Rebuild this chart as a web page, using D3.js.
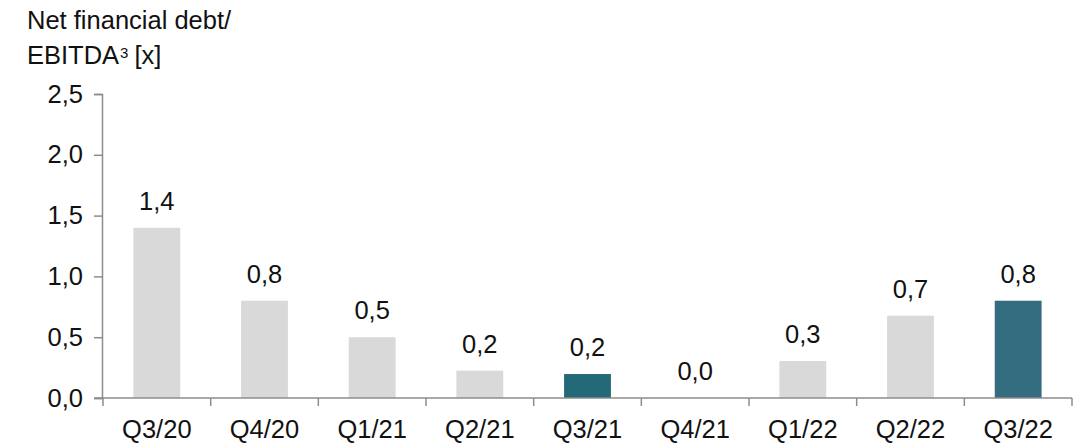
<!DOCTYPE html>
<html>
<head>
<meta charset="utf-8">
<script src="https://cdn.jsdelivr.net/npm/d3@7"></script>
<style>
  body { margin: 0; background: #fff; }
  svg text { font-family: "Liberation Sans", Arial, sans-serif; fill: #111; }
</style>
</head>
<body>
<div id="chart"></div>
<script>
const categories = ["Q3/20", "Q4/20", "Q1/21", "Q2/21", "Q3/21", "Q4/21", "Q1/22", "Q2/22", "Q3/22"];
const values = [1.40, 0.80, 0.50, 0.225, 0.197, 0.0, 0.304, 0.677, 0.80];
const labels = ["1,4", "0,8", "0,5", "0,2", "0,2", "0,0", "0,3", "0,7", "0,8"];
const barColors = ["#d9d9d9", "#d9d9d9", "#d9d9d9", "#d9d9d9", "#236978", "#d9d9d9", "#d9d9d9", "#d9d9d9", "#346d80"];
const yTicks = [0, 0.5, 1.0, 1.5, 2.0, 2.5];

const width = 1079, height = 443;
const fs = "25.5px";

const svg = d3.select("#chart")
    .append("svg")
    .attr("width", width)
    .attr("height", height);

const x = d3.scaleBand()
    .domain(categories)
    .range([103, 1072]);

const y = d3.scaleLinear()
    .domain([0, 2.5])
    .range([398, 94]);

const barW = x.bandwidth() * 0.435;

// title
svg.append("text")
    .attr("x", 27)
    .attr("y", 29)
    .style("font-size", fs)
    .text("Net financial debt/");
const t2 = svg.append("text")
    .attr("x", 27)
    .attr("y", 64)
    .style("font-size", fs);
t2.append("tspan").text("EBITDA");
t2.append("tspan").attr("dy", -6).attr("dx", 1).style("font-size", "15px").text("3");
t2.append("tspan").attr("dy", 6).attr("dx", 6).text("[x]");

// bars
svg.selectAll(".bar")
    .data(values)
    .enter()
    .append("rect")
    .attr("class", "bar")
    .attr("x", (d, i) => x(categories[i]) + (x.bandwidth() - barW) / 2)
    .attr("y", d => y(d))
    .attr("width", barW)
    .attr("height", d => y(0) - y(d))
    .attr("fill", (d, i) => barColors[i]);

// value labels
svg.selectAll(".vlabel")
    .data(values)
    .enter()
    .append("text")
    .attr("class", "vlabel")
    .attr("x", (d, i) => x(categories[i]) + x.bandwidth() / 2)
    .attr("y", d => y(d) - 18)
    .attr("text-anchor", "middle")
    .style("font-size", fs)
    .text((d, i) => labels[i]);

// y axis
const yAxis = svg.append("g")
    .attr("transform", "translate(102,0)")
    .call(d3.axisLeft(y).tickValues(yTicks).tickSize(8).tickPadding(11)
        .tickFormat(d => d3.format(".1f")(d).replace(".", ",")));
yAxis.select(".domain").attr("stroke", "#8c8c8c").attr("stroke-width", 1.5);
yAxis.selectAll(".tick line").attr("stroke", "#8c8c8c").attr("stroke-width", 1.5);
yAxis.selectAll(".tick text").style("font-size", fs).attr("fill", "#111");

// x axis
const xAxis = svg.append("g")
    .attr("transform", "translate(0,398)");
xAxis.append("line")
    .attr("x1", 94).attr("x2", 1072)
    .attr("stroke", "#8c8c8c").attr("stroke-width", 1.5);
xAxis.selectAll(".xtick")
    .data(categories.concat(["end"]))
    .enter()
    .append("line")
    .attr("class", "xtick")
    .attr("x1", (d, i) => i < categories.length ? x(d) : x.range()[1])
    .attr("x2", (d, i) => i < categories.length ? x(d) : x.range()[1])
    .attr("y1", 0).attr("y2", 8)
    .attr("stroke", "#8c8c8c").attr("stroke-width", 1.5);
xAxis.selectAll(".xlabel")
    .data(categories)
    .enter()
    .append("text")
    .attr("class", "xlabel")
    .attr("x", d => x(d) + x.bandwidth() / 2)
    .attr("y", 40)
    .attr("text-anchor", "middle")
    .style("font-size", fs)
    .text(d => d);
</script>
</body>
</html>
